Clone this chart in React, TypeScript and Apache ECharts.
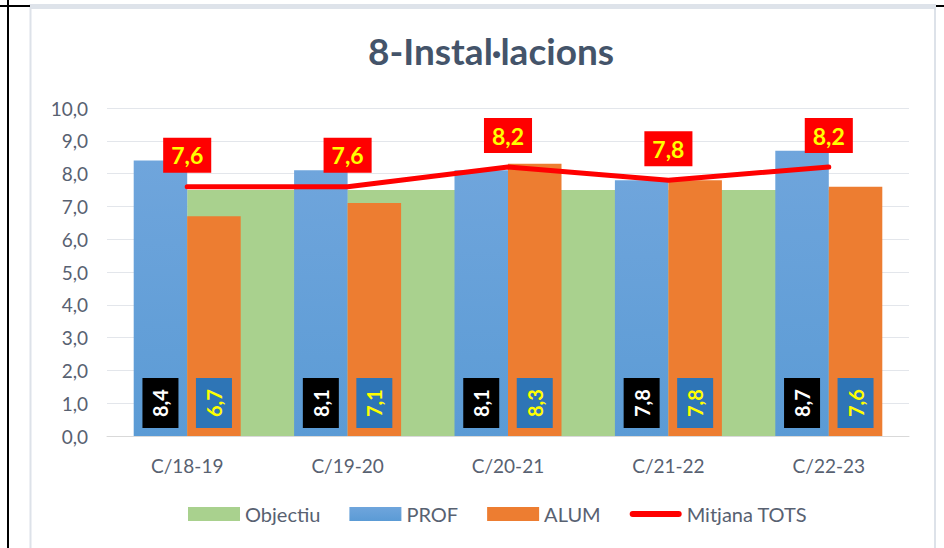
import React, { useEffect, useRef } from "react";
import * as echarts from "echarts";

const categories = ["C/18-19", "C/19-20", "C/20-21", "C/21-22", "C/22-23"];
const objectiu = [7.5, 7.5, 7.5, 7.5, 7.5];
const prof = [8.4, 8.1, 8.1, 7.8, 8.7];
const alum = [6.7, 7.1, 8.3, 7.8, 7.6];
const mitjana = [7.6, 7.6, 8.2, 7.8, 8.2];
const yTicks = { min: 0, max: 10, interval: 1 };

const FONT = "Lato, 'Open Sans', sans-serif";
const fmt = (v: number) => v.toFixed(1).replace(".", ",");

export default function App() {
  const ref = useRef<HTMLDivElement>(null);
  useEffect(() => {
    if (!ref.current) return;
    const chart = echarts.init(ref.current, undefined, { renderer: "svg" });
    const barLabel = (bg: string, fg: string) => ({
      show: true,
      position: "insideBottom",
      distance: 8,
      rotate: 90,
      align: "left",
      verticalAlign: "middle",
      formatter: (p: any) => fmt(p.value),
      color: fg,
      fontFamily: FONT,
      fontSize: 20,
      fontWeight: "bold",
      lineHeight: 24,
      backgroundColor: bg,
      padding: [6, 11, 6, 11],
    });
    chart.setOption({
      animation: false,
      backgroundColor: "#ffffff",
      title: {
        text: "8-Instal·lacions",
        left: 486,
        top: 27,
        textAlign: "center",
        textStyle: { fontFamily: FONT, fontSize: 37, fontWeight: "bold", color: "#44546A" },
      },
      graphic: [
        { type: "rect", shape: { x: 30, y: 4, width: 905, height: 5 }, style: { fill: "#DEE3EA" }, silent: true },
        { type: "line", shape: { x1: 30.5, y1: 4, x2: 30.5, y2: 548 }, style: { stroke: "#DDE2E9", lineWidth: 2 }, silent: true },
        { type: "line", shape: { x1: 935, y1: 4, x2: 935, y2: 548 }, style: { stroke: "#DDE2E9", lineWidth: 2 }, silent: true },
        { type: "line", shape: { x1: 8, y1: 0, x2: 8, y2: 548 }, style: { stroke: "#000", lineWidth: 2 }, silent: true },
        { type: "line", shape: { x1: 0, y1: 6, x2: 30, y2: 6 }, style: { stroke: "#000", lineWidth: 2 }, silent: true },
        { type: "line", shape: { x1: 936, y1: 6, x2: 944, y2: 6 }, style: { stroke: "#000", lineWidth: 2 }, silent: true },
      ],
      legend: {
        bottom: 19,
        left: 183,
        itemWidth: 52,
        itemHeight: 14,
        itemGap: 29,
        textStyle: { fontFamily: FONT, fontSize: 20, color: "#586171" },
        data: [
          { name: "Objectiu", icon: "rect" },
          { name: "PROF", icon: "rect" },
          { name: "ALUM", icon: "rect" },
          {
            name: "Mitjana TOTS",
            icon: "path://M3,0 L49,0 A3,3 0 0 1 49,6 L3,6 A3,3 0 0 1 3,0 Z",
            itemStyle: { color: "#FF0000" },
          },
        ],
      },
      grid: { left: 107, right: 35, top: 108, bottom: 112 },
      xAxis: {
        type: "category",
        data: categories,
        axisLine: { lineStyle: { color: "#D9D9D9" } },
        axisTick: { show: false },
        axisLabel: { fontFamily: FONT, fontSize: 19, color: "#586171", margin: 20 },
      },
      yAxis: {
        type: "value",
        min: yTicks.min,
        max: yTicks.max,
        interval: yTicks.interval,
        axisLine: { show: false },
        axisTick: { show: false },
        splitLine: { lineStyle: { color: "#E3E6EB" } },
        axisLabel: { fontFamily: FONT, fontSize: 19, color: "#586171", margin: 19, formatter: (v: number) => fmt(v) },
      },
      series: [
        {
          name: "Objectiu",
          type: "custom",
          z: 1,
          itemStyle: { color: "#A9D18E" },
          data: objectiu.map((v, i) => [i, v]),
          renderItem: (params: any, api: any) => {
            const i = api.value(0);
            if (i >= categories.length - 1) return null;
            const v = api.value(1);
            const a = api.coord([i, v]);
            const b = api.coord([i + 1, 0]);
            return {
              type: "rect",
              shape: { x: a[0], y: a[1], width: b[0] - a[0], height: b[1] - a[1] },
              style: { fill: "#A9D18E" },
            };
          },
        },
        {
          name: "PROF",
          type: "bar",
          z: 2,
          barWidth: 53.5,
          barGap: "0%",
          data: prof,
          itemStyle: {
            color: new echarts.graphic.LinearGradient(0, 0, 0, 1, [
              { offset: 0, color: "#6FA5DC" },
              { offset: 1, color: "#5B9BD5" },
            ]),
          },
          label: barLabel("#000000", "#FFFFFF"),
        },
        {
          name: "ALUM",
          type: "bar",
          z: 2,
          barWidth: 53.5,
          barGap: "0%",
          data: alum,
          itemStyle: { color: "#ED7D31" },
          label: barLabel("#2E75B6", "#FFFF00"),
        },
        {
          name: "Mitjana TOTS",
          type: "line",
          z: 5,
          data: mitjana,
          symbol: "circle",
          symbolSize: 0.01,
          showSymbol: true,
          lineStyle: { color: "#FF0000", width: 5, cap: "round", join: "round" },
          itemStyle: { color: "#FF0000" },
          label: {
            show: true,
            position: "top",
            distance: 14,
            formatter: (p: any) => fmt(p.value),
            color: "#FFFF00",
            fontFamily: FONT,
            fontSize: 23,
            fontWeight: "bold",
            lineHeight: 27,
            backgroundColor: "#FF0000",
            padding: [4, 8, 4, 8],
          },
        },
      ],
    });
    return () => chart.dispose();
  }, []);
  return (
    <div
      ref={ref}
      style={{ position: "absolute", left: 0, top: 0, width: 944, height: 548 }}
    />
  );
}
